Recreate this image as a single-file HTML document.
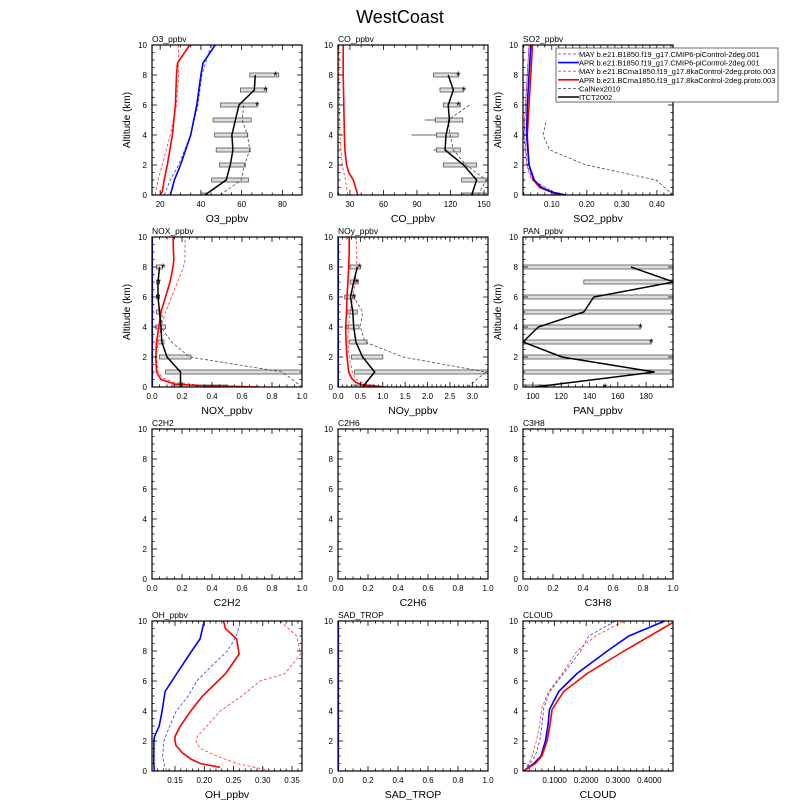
<!DOCTYPE html>
<html><head><meta charset="utf-8"><style>
html,body{margin:0;padding:0;background:#fff}
svg{display:block;font-family:"Liberation Sans",sans-serif}
</style></head><body>
<svg id="chart" width="800" height="800" viewBox="0 0 800 800" xmlns="http://www.w3.org/2000/svg">
<rect width="800" height="800" fill="#fff"/>
<text x="400" y="23" text-anchor="middle" font-size="18">WestCoast</text>
</svg>
<script>
// ---------------- data ----------------
const obsAlt = [0,1,2,3,4,5,6,7,8];
// O3
const o3RdAlt=[0,1,2,4,6,8,10], o3RdX=[17.5,19,21,25,28,29,29];
const o3RsAlt=[0,0.2,1,2,4,6,8,8.8,10], o3RsX=[20,21,22,23.5,26,27.5,28,28.5,34.5];
const o3BdAlt=[0,1,2,4,6,8,10], o3BdX=[22,25,29,35,38.5,40.5,45];
const o3BsAlt=[0,0.5,1,2,4,6,8,8.8,10], o3BsX=[25,26,27,30,35,38,40,41,47];
const o3Itct=[42,52.4,54.4,55.7,55.2,56.9,58.7,66.2,66.7];
const o3CalAlt=[0,1,2,3,4,5,6], o3Cal=[49.5,59.7,61.3,64,62.8,60.2,61];
const o3BoxLo=[40,45.3,49.1,47.5,46.7,46,49.6,59.4,64], o3BoxHi=[43,63.3,61.8,64.2,63,64.7,67.6,72.3,78.2];
const o3StarAlt=[6,7,8], o3Star=[67.6,71.7,76.6];
// CO
const coRsAlt=[0,0.5,1,1.5,2,3,4,6,8,10], coRsX=[37,35,33,29,27,25.5,25,24.5,24,24];
const coRdAlt=[0,1,2,3,4,6,10], coRdX=[28,26,23,22,21,20.5,20];
const coItct=[139,143.4,131.8,115.2,116,119,118,122.6,118];
const coCalAlt=[0,1,2,3,4,5,6], coCal=[144.7,152,134,122.6,119.7,118,137];
const coBoxLo=[131,130,113.6,107.4,107.4,106.5,113.6,110.6,104.7], coBoxHi=[152,153.6,143.4,128.8,126.9,131,128.8,131.5,127.1];
const coWhiskAlt=[3,4,5], coWhiskLo=[105,85,97];
const coStarAlt=[6,7,8], coStar=[127,132,127];
// SO2
const so2BsAlt=[0,0.2,0.5,1,2,4,6,8,10], so2BsX=[0.14,0.1,0.07,0.05,0.035,0.028,0.03,0.035,0.04];
const so2RsAlt=[0,0.5,1,2,4,6,8,10], so2RsX=[0.12,0.065,0.048,0.035,0.03,0.035,0.04,0.045];
const so2BdAlt=[0,1,2,4,6,8,10], so2BdX=[0.12,0.045,0.03,0.022,0.025,0.03,0.035];
const so2RdAlt=[0,1,2,4,6,10], so2RdX=[0.11,0.042,0.028,0.02,0.025,0.035];
const so2CalAlt=[0,1,2,3,4,5], so2Cal=[0.446,0.398,0.198,0.094,0.075,0.085];
// NOX
const noxRsAlt=[0,0.1,0.2,0.5,1,2,3,4,5,6,7,8,8.5,10], noxRsX=[0.72,0.3,0.15,0.06,0.03,0.025,0.03,0.045,0.06,0.09,0.12,0.14,0.145,0.14];
const noxRdAlt=[0,0.1,0.3,0.6,1,2,3,4,5,6,7,8,8.5,10], noxRdX=[0.82,0.35,0.15,0.07,0.04,0.03,0.04,0.06,0.09,0.13,0.17,0.21,0.22,0.22];
const noxBsAlt=[0,10], noxBsX=[0.002,0.002];
const noxItct=[0.19,0.19,0.1,0.065,0.06,0.05,0.04,0.04,0.05];
const noxCalAlt=[0,1,2,3,4,5], noxCal=[1.0,0.87,0.25,0.13,0.06,0.07];
const noxBoxLo=[0.13,0.09,0.05,0.03,0.025,0.03,0.03,0.03,0.03], noxBoxHi=[0.5,1.0,0.26,0.08,0.09,0.06,0.05,0.05,0.07];
const noxStarAlt=[6,7,8], noxStar=[0.04,0.045,0.075];
// NOy
const noyRsAlt=[0,0.1,0.3,0.6,1,2,3,4,5,6,7,8,9,10], noyRsX=[1.05,0.6,0.4,0.3,0.24,0.2,0.18,0.17,0.19,0.2,0.22,0.24,0.25,0.25];
const noyRdAlt=[0,0.2,0.5,1,2,3,4,5,6,7,8,9,10], noyRdX=[1.1,0.6,0.4,0.32,0.25,0.22,0.23,0.27,0.33,0.38,0.42,0.42,0.4];
const noyBsAlt=[0,10], noyBsX=[0.005,0.005];
const noyItct=[0.55,0.82,0.55,0.4,0.35,0.33,0.28,0.35,0.43];
const noyCalAlt=[0,1,2,3,4,5,6], noyCal=[2.9,3.3,1.45,0.6,0.5,0.55,0.35];
const noyBoxLo=[0.3,0.37,0.3,0.25,0.2,0.22,0.15,0.27,0.27], noyBoxHi=[0.8,3.35,1.0,0.65,0.47,0.43,0.38,0.45,0.5];
const noyStarAlt=[6,7,8], noyStar=[0.35,0.42,0.48];
// PAN
const panItct=[101.4,186,120.5,93,103.8,136,143,199.5,169.3];
const panBoxLo=[93,93,93,93,93,93,93,136,93], panBoxHi=[110,199,199,183.6,176,199,199,199,199];
const panStarAlt=[0,3,4], panStar=[151,183.6,176];
// OH
const ohBsAlt=[0,0.5,1,2,2.3,3,4,5.3,6.5,8,8.8,10], ohBsX=[0.1147,0.1137,0.1137,0.114,0.115,0.123,0.128,0.133,0.153,0.1785,0.1927,0.2];
const ohBdAlt=[0,0.5,1,2,3,4,5,6,7,8,9,10], ohBdX=[0.136,0.131,0.129,0.131,0.141,0.152,0.1728,0.187,0.2127,0.2395,0.255,0.262];
const ohRsAlt=[0.25,0.5,0.8,1.2,1.7,2,2.3,3,4,5,6.5,7.8,8.8,9.5,10], ohRsX=[0.227,0.193,0.177,0.163,0.1517,0.15,0.15,0.159,0.177,0.197,0.2367,0.2595,0.2555,0.236,0.233];
const ohRdAlt=[0.1,0.5,1,1.5,2,2.3,3,4,5,6,6.5,7.8,9,10], ohRdX=[0.3039,0.2555,0.2215,0.193,0.186,0.188,0.2045,0.2272,0.2642,0.2955,0.338,0.365,0.358,0.33];
// SAD
const sadBsAlt=[0,10], sadBsX=[0.002,0.002];
// CLOUD
const clBsAlt=[0,0.5,1,2,3,4.1,5.3,6.5,8,9,10], clBsX=[0.002,0.034,0.057,0.071,0.079,0.084,0.113,0.171,0.267,0.335,0.449];
const clRsAlt=[0,0.5,1,2,3,4.1,5.3,6.5,8,9.9], clRsX=[0.002,0.039,0.06,0.076,0.085,0.092,0.129,0.203,0.32,0.475];
const clBdAlt=[0,0.5,1,2,3,4.2,5.3,6.5,8,9,10], clBdX=[0.004,0.023,0.039,0.053,0.06,0.066,0.085,0.129,0.182,0.208,0.293];
const clRdAlt=[0,0.5,1,2,3,4.2,5.3,6.5,8,9,10], clRdX=[0.004,0.018,0.029,0.042,0.052,0.06,0.081,0.124,0.171,0.23,0.32];
const legendLabels=["MAY b.e21.B1850.f19_g17.CMIP6-piControl-2deg.001","APR b.e21.B1850.f19_g17.CMIP6-piControl-2deg.001","MAY b.e21.BCma1850.f19_g17.8kaControl-2deg.proto.003","APR b.e21.BCma1850.f19_g17.8kaControl-2deg.proto.003","CalNex2010","ITCT2002"];
const yTicks=[0,2,4,6,8,10];

// ---------------- drawing ----------------
const NS="http://www.w3.org/2000/svg";
const svg=document.getElementById('chart');
const COLS=[152,338,523], ROWS=[45,237,429,621], W=150, H=150;
const ST={
 bd:{stroke:'#3333ff',w:0.8,dash:'3,2',name:'may-b1850-line'},
 bs:{stroke:'#0000ff',w:1.6,dash:null,name:'apr-b1850-line'},
 rd:{stroke:'#ff3333',w:0.8,dash:'3,2',name:'may-bcma1850-line'},
 rs:{stroke:'#ff0000',w:1.6,dash:null,name:'apr-bcma1850-line'},
 cal:{stroke:'#333',w:0.7,dash:'3,2',name:'calnex2010-line'},
 itct:{stroke:'#000',w:1.5,dash:null,name:'itct2002-line'}
};
function el(tag,attrs,parent){const e=document.createElementNS(NS,tag);for(const k in attrs)e.setAttribute(k,attrs[k]);(parent||svg).appendChild(e);return e;}
let clipId=0;
function panel(c){
  const L=COLS[c.col], T=ROWS[c.row];
  const g=el('g',{});
  
  
  const sx=v=>L+(v-c.xmin)/(c.xmax-c.xmin)*W;
  const sy=v=>T+H-v/10*H;
  const cid='clip'+(clipId++);
  const cp=el('clipPath',{id:cid},g);el('rect',{x:L,y:T,width:W,height:H},cp);
  const plot=el('g',{'clip-path':'url(#'+cid+')'},g);
  if(c.boxLo){
    obsAlt.forEach((a,i)=>{
      const x1=sx(c.boxLo[i]),x2=sx(c.boxHi[i]);
      const r=el('rect',{x:x1,y:sy(a)-2,width:Math.max(1,x2-x1),height:4,fill:'#ddd',stroke:'#555','stroke-width':0.8},plot);
      
      
    });
  }
  if(c.whiskAlt){
    c.whiskAlt.forEach((a,i)=>{
      const ln=el('line',{x1:sx(c.whiskLo[i]),x2:sx(c.boxLo[obsAlt.indexOf(a)]),y1:sy(a),y2:sy(a),stroke:'#333','stroke-width':0.8},plot);
      
      
    });
  }
  (c.series||[]).forEach(s=>{
    const st=ST[s.st];
    const pts=s.x.map((v,i)=>sx(v).toFixed(1)+','+sy(s.y[i]).toFixed(1)).join(' ');
    const p=el('polyline',{points:pts,fill:'none',stroke:st.stroke,'stroke-width':st.w},plot);
    if(st.dash)p.setAttribute('stroke-dasharray',st.dash);
    
    
  });
  if(c.starX){
    c.starX.forEach((v,i)=>{
      const t=el('text',{x:sx(v),y:sy(c.starAlt[i])+5,'font-size':12,'text-anchor':'middle',fill:'#000'},g);
      t.textContent='*';
      
      
    });
  }
  const fr=el('rect',{x:L,y:T,width:W,height:H,fill:'none',stroke:'#000','stroke-width':1.2},g);
  
  
  for(let v=0;v<=10.001;v+=0.5){
    const major=Math.abs(v-Math.round(v/2)*2)<1e-6, len=major?5:2.5, y=sy(v);
    el('line',{x1:L,x2:L+len,y1:y,y2:y,stroke:'#000','stroke-width':0.8},g);
    el('line',{x1:L+W,x2:L+W-len,y1:y,y2:y,stroke:'#000','stroke-width':0.8},g);
  }
  yTicks.forEach(v=>{
    const t=el('text',{x:L-5,y:sy(v)+3,'font-size':8,'text-anchor':'end'},g);
    t.textContent=v;
    
    
  });
  const step=c.xticks.length>1?c.xticks[1]-c.xticks[0]:0.1;
  const ms=step/(c.minor||4);
  for(let v=c.xticks[0]-Math.floor((c.xticks[0]-c.xmin)/ms)*ms; v<=c.xmax+1e-9; v+=ms){
    const major=c.xticks.some(t=>Math.abs(t-v)<ms*0.01), len=major?5:2.5, x=sx(v);
    el('line',{x1:x,x2:x,y1:T+H,y2:T+H-len,stroke:'#000','stroke-width':0.8},g);
    el('line',{x1:x,x2:x,y1:T,y2:T+len,stroke:'#000','stroke-width':0.8},g);
  }
  c.xticks.forEach((v,i)=>{
    const t=el('text',{x:sx(v),y:T+H+12,'font-size':8,'text-anchor':'middle'},g);
    t.textContent=c.xlabels[i];
    
    
  });
  const tt=el('text',{x:L,y:T-3,'font-size':8.5},g);
  tt.textContent=c.title;
  
  
  const xt=el('text',{x:L+W/2,y:T+H+27,'font-size':10.5,'text-anchor':'middle'},g);
  xt.textContent=c.xlabel;
  
  
  if(c.alt){
    const yt=el('text',{x:0,y:0,'font-size':10,'text-anchor':'middle',transform:'translate('+(L-22)+','+(T+H/2)+') rotate(-90)'},g);
    yt.textContent='Altitude (km)';
    
    
  }
}
const unit=[0,0.2,0.4,0.6,0.8,1.0], unitL=['0.0','0.2','0.4','0.6','0.8','1.0'];
panel({id:'o3',col:0,row:0,title:'O3_ppbv',xlabel:'O3_ppbv',xmin:16,xmax:89.6,xticks:[20,40,60,80],xlabels:['20','40','60','80'],alt:true,
 series:[{x:o3RdX,y:o3RdAlt,st:'rd'},{x:o3RsX,y:o3RsAlt,st:'rs'},{x:o3BdX,y:o3BdAlt,st:'bd'},{x:o3BsX,y:o3BsAlt,st:'bs'},{x:o3Cal,y:o3CalAlt,st:'cal'},{x:o3Itct,y:obsAlt,st:'itct'}],
 boxLo:o3BoxLo,boxHi:o3BoxHi,starX:o3Star,starAlt:o3StarAlt});
panel({id:'co',col:1,row:0,title:'CO_ppbv',xlabel:'CO_ppbv',xmin:19.3,xmax:153.6,xticks:[30,60,90,120,150],xlabels:['30','60','90','120','150'],minor:3,
 series:[{x:coRdX,y:coRdAlt,st:'rd'},{x:coRsX,y:coRsAlt,st:'rs'},{x:coCal,y:coCalAlt,st:'cal'},{x:coItct,y:obsAlt,st:'itct'}],
 boxLo:coBoxLo,boxHi:coBoxHi,whiskAlt:coWhiskAlt,whiskLo:coWhiskLo,starX:coStar,starAlt:coStarAlt});
panel({id:'so2',col:2,row:0,title:'SO2_ppbv',xlabel:'SO2_ppbv',xmin:0.0178,xmax:0.446,xticks:[0.1,0.2,0.3,0.4],xlabels:['0.10','0.20','0.30','0.40'],alt:true,minor:5,
 series:[{x:so2BdX,y:so2BdAlt,st:'bd'},{x:so2RdX,y:so2RdAlt,st:'rd'},{x:so2RsX,y:so2RsAlt,st:'rs'},{x:so2BsX,y:so2BsAlt,st:'bs'},{x:so2Cal,y:so2CalAlt,st:'cal'}]});
panel({id:'nox',col:0,row:1,title:'NOX_ppbv',xlabel:'NOX_ppbv',xmin:0,xmax:1,xticks:unit,xlabels:unitL,alt:true,
 series:[{x:noxBsX,y:noxBsAlt,st:'bs'},{x:noxRdX,y:noxRdAlt,st:'rd'},{x:noxRsX,y:noxRsAlt,st:'rs'},{x:noxCal,y:noxCalAlt,st:'cal'},{x:noxItct,y:obsAlt,st:'itct'}],
 boxLo:noxBoxLo,boxHi:noxBoxHi,starX:noxStar,starAlt:noxStarAlt});
panel({id:'noy',col:1,row:1,title:'NOy_ppbv',xlabel:'NOy_ppbv',xmin:0,xmax:3.35,xticks:[0,0.5,1,1.5,2,2.5,3],xlabels:['0.0','0.5','1.0','1.5','2.0','2.5','3.0'],minor:5,
 series:[{x:noyBsX,y:noyBsAlt,st:'bs'},{x:noyRdX,y:noyRdAlt,st:'rd'},{x:noyRsX,y:noyRsAlt,st:'rs'},{x:noyCal,y:noyCalAlt,st:'cal'},{x:noyItct,y:obsAlt,st:'itct'}],
 boxLo:noyBoxLo,boxHi:noyBoxHi,starX:noyStar,starAlt:noyStarAlt});
panel({id:'pan',col:2,row:1,title:'PAN_ppbv',xlabel:'PAN_ppbv',xmin:93,xmax:199,xticks:[100,120,140,160,180],xlabels:['100','120','140','160','180'],alt:true,
 series:[{x:panItct,y:obsAlt,st:'itct'}],boxLo:panBoxLo,boxHi:panBoxHi,starX:panStar,starAlt:panStarAlt});
panel({id:'c2h2',col:0,row:2,title:'C2H2',xlabel:'C2H2',xmin:0,xmax:1,xticks:unit,xlabels:unitL});
panel({id:'c2h6',col:1,row:2,title:'C2H6',xlabel:'C2H6',xmin:0,xmax:1,xticks:unit,xlabels:unitL});
panel({id:'c3h8',col:2,row:2,title:'C3H8',xlabel:'C3H8',xmin:0,xmax:1,xticks:unit,xlabels:unitL});
panel({id:'oh',col:0,row:3,title:'OH_ppbv',xlabel:'OH_ppbv',xmin:0.1107,xmax:0.367,xticks:[0.15,0.2,0.25,0.3,0.35],xlabels:['0.15','0.20','0.25','0.30','0.35'],minor:5,
 series:[{x:ohBsX,y:ohBsAlt,st:'bs'},{x:ohBdX,y:ohBdAlt,st:'bd'},{x:ohRsX,y:ohRsAlt,st:'rs'},{x:ohRdX,y:ohRdAlt,st:'rd'}]});
panel({id:'sad',col:1,row:3,title:'SAD_TROP',xlabel:'SAD_TROP',xmin:0,xmax:1,xticks:unit,xlabels:unitL,
 series:[{x:sadBsX,y:sadBsAlt,st:'bs'}]});
panel({id:'cloud',col:2,row:3,title:'CLOUD',xlabel:'CLOUD',xmin:0,xmax:0.475,xticks:[0.1,0.2,0.3,0.4],xlabels:['0.1000','0.2000','0.3000','0.4000'],minor:5,
 series:[{x:clRdX,y:clRdAlt,st:'rd'},{x:clBdX,y:clBdAlt,st:'bd'},{x:clBsX,y:clBsAlt,st:'bs'},{x:clRsX,y:clRsAlt,st:'rs'}]});
// legend
const lg=el('g',{});


el('rect',{x:556,y:48,width:222,height:54,fill:'#fff',stroke:'#444','stroke-width':0.8},lg);
const lgStyles=['bd','bs','rd','rs','cal','itct'];
legendLabels.forEach((lab,i)=>{
  const st=ST[lgStyles[i]], y=54+i*8.6;
  const ln=el('line',{x1:558,x2:579,y1:y,y2:y,stroke:st.stroke,'stroke-width':st.w},lg);
  if(st.dash)ln.setAttribute('stroke-dasharray',st.dash);
  const t=el('text',{x:579,y:y+3,'font-size':7.5},lg);
  t.textContent=lab;
  
  
});
</script>
</body></html>
